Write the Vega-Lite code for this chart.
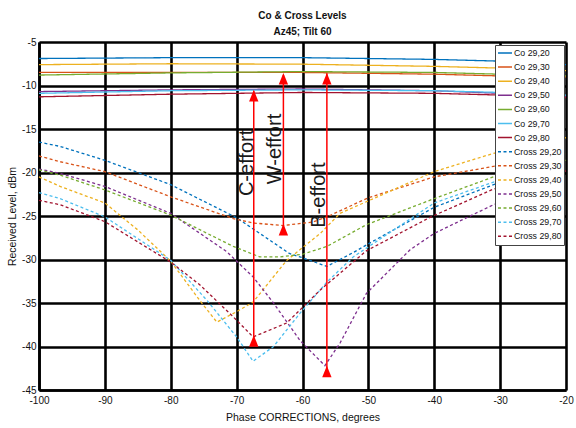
{
  "$schema": "https://vega.github.io/schema/vega-lite/v6.json",
  "width": 527,
  "height": 348,
  "autosize": {"type": "none"},
  "padding": {"left": 39, "top": 42, "right": 10, "bottom": 38},
  "background": "white",
  "config": {
    "view": {"stroke": null},
    "font": "Liberation Sans",
    "axis": {
      "labelFont": "Liberation Sans",
      "titleFont": "Liberation Sans",
      "labelFontSize": 10,
      "titleFontSize": 10.5,
      "titleFontWeight": "normal",
      "labelColor": "#111",
      "titleColor": "#111",
      "gridColor": "#000",
      "gridWidth": 2.6,
      "gridOpacity": 1,
      "domainColor": "#000",
      "domainWidth": 2.6,
      "ticks": false,
      "zindex": 1
    }
  },
  "title": {
    "text": ["Co & Cross Levels", "Az45; Tilt 60"],
    "font": "Liberation Sans",
    "fontSize": 10,
    "fontWeight": "bold",
    "color": "#111",
    "anchor": "middle",
    "frame": "group",
    "lineHeight": 16.5,
    "offset": 0
  },
  "layer": [
    {
      "data": {"values": [
        {"s": "Co 29,20", "x": -100, "y": -6.9}, {"s": "Co 29,20", "x": -80, "y": -6.8}, {"s": "Co 29,20", "x": -60, "y": -6.8}, {"s": "Co 29,20", "x": -40, "y": -7.0}, {"s": "Co 29,20", "x": -30, "y": -7.2}, {"s": "Co 29,20", "x": -20, "y": -7.6},
        {"s": "Co 29,30", "x": -100, "y": -8.5}, {"s": "Co 29,30", "x": -80, "y": -8.5}, {"s": "Co 29,30", "x": -60, "y": -8.5}, {"s": "Co 29,30", "x": -40, "y": -8.7}, {"s": "Co 29,30", "x": -30, "y": -8.9}, {"s": "Co 29,30", "x": -20, "y": -9.0},
        {"s": "Co 29,40", "x": -100, "y": -7.6}, {"s": "Co 29,40", "x": -80, "y": -7.5}, {"s": "Co 29,40", "x": -60, "y": -7.55}, {"s": "Co 29,40", "x": -40, "y": -7.8}, {"s": "Co 29,40", "x": -30, "y": -8.0}, {"s": "Co 29,40", "x": -20, "y": -8.3},
        {"s": "Co 29,50", "x": -100, "y": -10.7}, {"s": "Co 29,50", "x": -80, "y": -10.5}, {"s": "Co 29,50", "x": -60, "y": -10.4}, {"s": "Co 29,50", "x": -40, "y": -10.6}, {"s": "Co 29,50", "x": -30, "y": -10.9}, {"s": "Co 29,50", "x": -20, "y": -11.3},
        {"s": "Co 29,60", "x": -100, "y": -8.8}, {"s": "Co 29,60", "x": -80, "y": -8.55}, {"s": "Co 29,60", "x": -60, "y": -8.4}, {"s": "Co 29,60", "x": -40, "y": -8.5}, {"s": "Co 29,60", "x": -30, "y": -8.7}, {"s": "Co 29,60", "x": -20, "y": -8.9},
        {"s": "Co 29,70", "x": -100, "y": -10.9}, {"s": "Co 29,70", "x": -80, "y": -10.6}, {"s": "Co 29,70", "x": -60, "y": -10.5}, {"s": "Co 29,70", "x": -40, "y": -10.6}, {"s": "Co 29,70", "x": -30, "y": -10.8}, {"s": "Co 29,70", "x": -20, "y": -11.1},
        {"s": "Co 29,80", "x": -100, "y": -11.3}, {"s": "Co 29,80", "x": -80, "y": -11.0}, {"s": "Co 29,80", "x": -60, "y": -10.8}, {"s": "Co 29,80", "x": -40, "y": -10.9}, {"s": "Co 29,80", "x": -30, "y": -11.1}, {"s": "Co 29,80", "x": -20, "y": -11.4},

        {"s": "Cross 29,20", "x": -100, "y": -16.5}, {"s": "Cross 29,20", "x": -96.8, "y": -17.0}, {"s": "Cross 29,20", "x": -90, "y": -18.6}, {"s": "Cross 29,20", "x": -80, "y": -21.4}, {"s": "Cross 29,20", "x": -70, "y": -25.2}, {"s": "Cross 29,20", "x": -62, "y": -29.3}, {"s": "Cross 29,20", "x": -60, "y": -29.8}, {"s": "Cross 29,20", "x": -56.3, "y": -30.8}, {"s": "Cross 29,20", "x": -52.3, "y": -29.2}, {"s": "Cross 29,20", "x": -50, "y": -28.2}, {"s": "Cross 29,20", "x": -40, "y": -24.0}, {"s": "Cross 29,20", "x": -31, "y": -21.4}, {"s": "Cross 29,20", "x": -20, "y": -19.0},

        {"s": "Cross 29,30", "x": -100, "y": -18.1}, {"s": "Cross 29,30", "x": -96.8, "y": -18.76}, {"s": "Cross 29,30", "x": -90, "y": -19.9}, {"s": "Cross 29,30", "x": -80, "y": -22.8}, {"s": "Cross 29,30", "x": -70.5, "y": -25.3}, {"s": "Cross 29,30", "x": -67.5, "y": -25.8}, {"s": "Cross 29,30", "x": -63, "y": -26.1}, {"s": "Cross 29,30", "x": -58.5, "y": -25.7}, {"s": "Cross 29,30", "x": -56.3, "y": -25.1}, {"s": "Cross 29,30", "x": -50, "y": -22.9}, {"s": "Cross 29,30", "x": -40, "y": -20.5}, {"s": "Cross 29,30", "x": -31, "y": -19.3}, {"s": "Cross 29,30", "x": -20, "y": -17.8},

        {"s": "Cross 29,40", "x": -100, "y": -20.5}, {"s": "Cross 29,40", "x": -96.8, "y": -21.6}, {"s": "Cross 29,40", "x": -90, "y": -23.5}, {"s": "Cross 29,40", "x": -85, "y": -26.6}, {"s": "Cross 29,40", "x": -80, "y": -30.2}, {"s": "Cross 29,40", "x": -75.6, "y": -34.7}, {"s": "Cross 29,40", "x": -73, "y": -37.2}, {"s": "Cross 29,40", "x": -70, "y": -36.0}, {"s": "Cross 29,40", "x": -67.5, "y": -34.9}, {"s": "Cross 29,40", "x": -62.4, "y": -30.1}, {"s": "Cross 29,40", "x": -57.3, "y": -27.0}, {"s": "Cross 29,40", "x": -54.3, "y": -24.7}, {"s": "Cross 29,40", "x": -40, "y": -19.9}, {"s": "Cross 29,40", "x": -31, "y": -17.8}, {"s": "Cross 29,40", "x": -20, "y": -16.0},

        {"s": "Cross 29,50", "x": -100, "y": -19.6}, {"s": "Cross 29,50", "x": -96.8, "y": -20.1}, {"s": "Cross 29,50", "x": -90, "y": -21.6}, {"s": "Cross 29,50", "x": -80, "y": -24.7}, {"s": "Cross 29,50", "x": -71.5, "y": -29.1}, {"s": "Cross 29,50", "x": -67.5, "y": -32.0}, {"s": "Cross 29,50", "x": -64.4, "y": -35.0}, {"s": "Cross 29,50", "x": -60.4, "y": -39.3}, {"s": "Cross 29,50", "x": -56.6, "y": -42.2}, {"s": "Cross 29,50", "x": -54.3, "y": -39.6}, {"s": "Cross 29,50", "x": -50.3, "y": -33.9}, {"s": "Cross 29,50", "x": -43.7, "y": -28.9}, {"s": "Cross 29,50", "x": -40, "y": -27.0}, {"s": "Cross 29,50", "x": -31, "y": -23.7}, {"s": "Cross 29,50", "x": -20, "y": -20.6},

        {"s": "Cross 29,60", "x": -100, "y": -19.7}, {"s": "Cross 29,60", "x": -96.8, "y": -20.3}, {"s": "Cross 29,60", "x": -90, "y": -22.0}, {"s": "Cross 29,60", "x": -80, "y": -24.9}, {"s": "Cross 29,60", "x": -70.5, "y": -28.5}, {"s": "Cross 29,60", "x": -66.5, "y": -29.7}, {"s": "Cross 29,60", "x": -63.4, "y": -29.7}, {"s": "Cross 29,60", "x": -60, "y": -29.4}, {"s": "Cross 29,60", "x": -56.3, "y": -28.5}, {"s": "Cross 29,60", "x": -50.3, "y": -26.0}, {"s": "Cross 29,60", "x": -40, "y": -23.0}, {"s": "Cross 29,60", "x": -31, "y": -20.5}, {"s": "Cross 29,60", "x": -20, "y": -18.6},

        {"s": "Cross 29,70", "x": -100, "y": -22.3}, {"s": "Cross 29,70", "x": -96.8, "y": -23.0}, {"s": "Cross 29,70", "x": -90, "y": -25.1}, {"s": "Cross 29,70", "x": -80, "y": -30.1}, {"s": "Cross 29,70", "x": -74.5, "y": -34.7}, {"s": "Cross 29,70", "x": -70, "y": -38.9}, {"s": "Cross 29,70", "x": -67.5, "y": -41.7}, {"s": "Cross 29,70", "x": -64.4, "y": -40.0}, {"s": "Cross 29,70", "x": -60.4, "y": -36.2}, {"s": "Cross 29,70", "x": -56.3, "y": -32.6}, {"s": "Cross 29,70", "x": -52.3, "y": -29.7}, {"s": "Cross 29,70", "x": -40, "y": -23.5}, {"s": "Cross 29,70", "x": -31, "y": -21.1}, {"s": "Cross 29,70", "x": -20, "y": -19.3},

        {"s": "Cross 29,80", "x": -100, "y": -23.2}, {"s": "Cross 29,80", "x": -96.8, "y": -23.7}, {"s": "Cross 29,80", "x": -90, "y": -25.65}, {"s": "Cross 29,80", "x": -80, "y": -30.3}, {"s": "Cross 29,80", "x": -75.6, "y": -32.9}, {"s": "Cross 29,80", "x": -70.5, "y": -36.6}, {"s": "Cross 29,80", "x": -67.5, "y": -38.9}, {"s": "Cross 29,80", "x": -62.4, "y": -37.3}, {"s": "Cross 29,80", "x": -57.3, "y": -33.5}, {"s": "Cross 29,80", "x": -50.3, "y": -29.0}, {"s": "Cross 29,80", "x": -40.5, "y": -25.1}, {"s": "Cross 29,80", "x": -31, "y": -21.9}, {"s": "Cross 29,80", "x": -20, "y": -19.8}
      ]},
      "mark": {"type": "line", "strokeWidth": 1.3},
      "encoding": {
        "x": {"field": "x", "type": "quantitative",
              "scale": {"domain": [-100, -20], "nice": false},
              "axis": {"values": [-100, -90, -80, -70, -60, -50, -40, -30, -20], "title": "Phase CORRECTIONS, degrees", "labelPadding": 5, "titlePadding": 7, "labelFlush": false,
                       "labelExpr": "'-' + abs(datum.value)"}},
        "y": {"field": "y", "type": "quantitative",
              "scale": {"domain": [-45, -5], "nice": false, "zero": false},
              "axis": {"values": [-45, -40, -35, -30, -25, -20, -15, -10, -5], "title": "Received Level, dBm", "labelPadding": 3, "labelFlush": false,
                       "labelExpr": "'-' + abs(datum.value)",
                       "titleX": -27, "titleY": 174, "titleAngle": 270, "titleAlign": "center", "titleBaseline": "middle"}},
        "color": {"field": "s", "type": "nominal",
                  "scale": {"domain": ["Co 29,20", "Co 29,30", "Co 29,40", "Co 29,50", "Co 29,60", "Co 29,70", "Co 29,80", "Cross 29,20", "Cross 29,30", "Cross 29,40", "Cross 29,50", "Cross 29,60", "Cross 29,70", "Cross 29,80"],
                            "range": ["#0072BD", "#D95319", "#EDB120", "#7E2F8E", "#77AC30", "#4DBEEE", "#A2142F", "#0072BD", "#D95319", "#EDB120", "#7E2F8E", "#77AC30", "#4DBEEE", "#A2142F"]},
                  "legend": {"orient": "none", "legendX": 456, "legendY": 3, "title": null, "symbolType": "stroke", "symbolSize": 196, "symbolStrokeWidth": 1.5, "labelFont": "Liberation Sans", "labelFontSize": 8.8, "labelColor": "#111", "padding": 2, "strokeColor": "#444", "fillColor": "white", "rowPadding": 2.1, "clipHeight": 12, "labelOffset": 1, "labelLimit": 100, "zindex": 2}},
        "strokeDash": {"field": "s", "type": "nominal",
                  "scale": {"domain": ["Co 29,20", "Co 29,30", "Co 29,40", "Co 29,50", "Co 29,60", "Co 29,70", "Co 29,80", "Cross 29,20", "Cross 29,30", "Cross 29,40", "Cross 29,50", "Cross 29,60", "Cross 29,70", "Cross 29,80"],
                            "range": [[1, 0], [1, 0], [1, 0], [1, 0], [1, 0], [1, 0], [1, 0], [3, 2.5], [3, 2.5], [3, 2.5], [3, 2.5], [3, 2.5], [3, 2.5], [3, 2.5]]},
                  "legend": {"orient": "none", "legendX": 456, "legendY": 3, "title": null, "symbolType": "stroke", "symbolSize": 196, "symbolStrokeWidth": 1.5, "labelFont": "Liberation Sans", "labelFontSize": 8.8, "labelColor": "#111", "padding": 2, "strokeColor": "#444", "fillColor": "white", "rowPadding": 2.1, "clipHeight": 12, "labelOffset": 1, "labelLimit": 100, "zindex": 2}},
        "order": {"field": "x", "type": "quantitative"}
      }
    },
    {
      "data": {"values": [
        {"label": "C-effort", "x": -67.4, "y": -39.4, "y2": -10.6},
        {"label": "W-effort", "x": -62.9, "y": -26.6, "y2": -8.8},
        {"label": "B-effort", "x": -56.3, "y": -42.9, "y2": -8.6}
      ]},
      "mark": {"type": "rule", "color": "#FF0000", "strokeWidth": 1.5},
      "encoding": {
        "x": {"field": "x", "type": "quantitative"},
        "y": {"field": "y", "type": "quantitative"},
        "y2": {"field": "y2"}
      }
    },
    {
      "data": {"values": [
        {"x": -67.4, "y": -39.4}, {"x": -67.4, "y": -11.2},
        {"x": -62.9, "y": -26.6}, {"x": -62.9, "y": -9.25},
        {"x": -56.3, "y": -42.9}, {"x": -56.3, "y": -9.25}
      ]},
      "mark": {"type": "point", "shape": "M0,-1.1L-0.85,1L0.85,1Z", "filled": true, "color": "#FF0000", "size": 121, "opacity": 1, "strokeWidth": 0},
      "encoding": {
        "x": {"field": "x", "type": "quantitative"},
        "y": {"field": "y", "type": "quantitative"}
      }
    },
    {
      "data": {"values": [
        {"label": "C-effort", "x": -68.5, "y": -18.9},
        {"label": "W-effort", "x": -64.2, "y": -17.3},
        {"label": "B-effort", "x": -57.5, "y": -22.6}
      ]},
      "mark": {"type": "text", "angle": 270, "align": "center", "baseline": "middle", "font": "Liberation Sans", "fontSize": 20, "color": "#1a1a1a"},
      "encoding": {
        "x": {"field": "x", "type": "quantitative"},
        "y": {"field": "y", "type": "quantitative"},
        "text": {"field": "label"}
      }
    }
  ]
}
